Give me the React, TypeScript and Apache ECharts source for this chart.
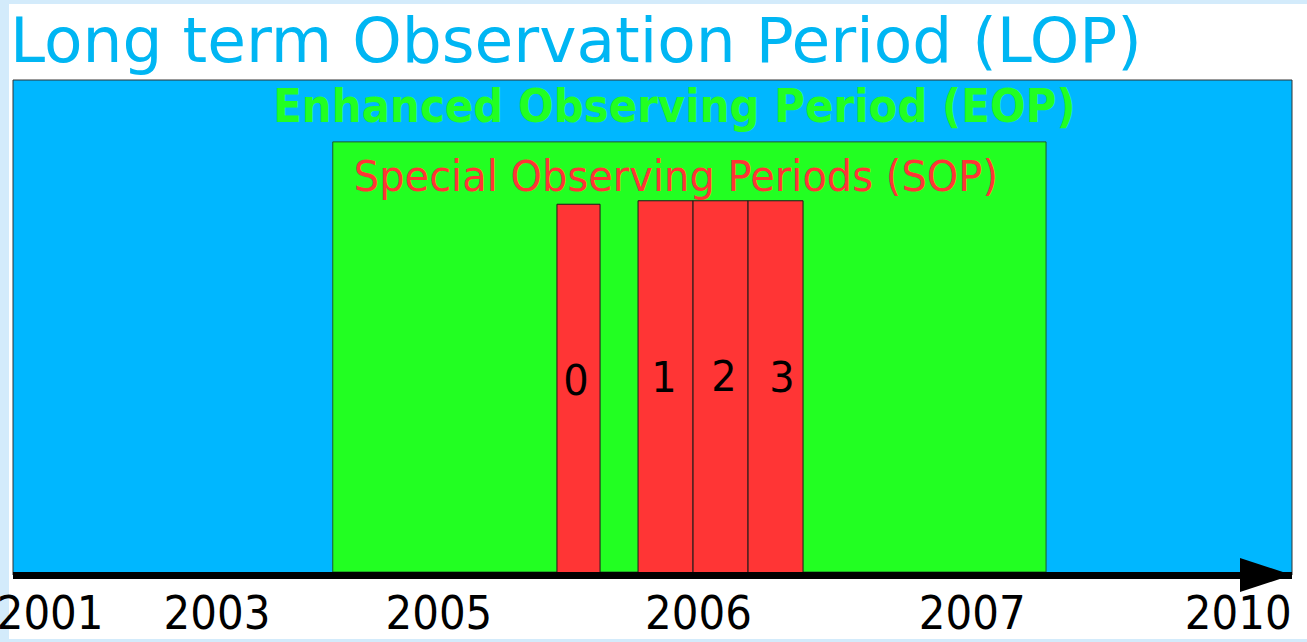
import React, { useEffect, useRef } from 'react';
import * as echarts from 'echarts';

const titleText = 'Long term Observation Period (LOP)';
const eopText = 'Enhanced Observing Period (EOP)';
const sopText = 'Special Observing Periods (SOP)';

// schematic timeline units: x runs 0–100 along the arrow, y runs 0–100 up the box
const lopSpan = [0, 100, 0, 100];
const eopSpan = [25.0, 80.77, 0.6, 87.5];
const sopLabels = ['0', '1', '2', '3'];
const sopStart = [42.53, 48.87, 53.17, 57.47];
const sopEnd = [45.9, 53.17, 57.47, 61.77];
const sopTop = [74.9, 75.6, 75.6, 75.6];
const sopLabelX = [44.02, 50.9, 55.59, 60.13];
const sopLabelY = [39.4, 40.0, 40.2, 40.0];
const yearLabels = ['2001', '2003', '2005', '2006', '2007', '2010'];
const yearPos = [2.9, 15.95, 33.3, 53.6, 75.0, 95.8];

const FONT = '"DejaVu Sans", sans-serif';
const BLUE = '#00b7ff';
const GREEN = '#22ff22';
const RED = '#ff3535';
const TEXT_SY = 1.08;

export default function App() {
  const ref = useRef<HTMLDivElement>(null);

  useEffect(() => {
    document.body.style.margin = '0';
    const chart = echarts.init(ref.current!, null, { renderer: 'svg' });

    const periodData = [lopSpan, eopSpan];
    const sopData = sopLabels.map((l, i) => [sopStart[i], sopEnd[i], 0, sopTop[i], sopLabelX[i], sopLabelY[i]]);
    const yearData = yearLabels.map((l, i) => [yearPos[i], 0]);

    chart.setOption({
      animation: false,
      backgroundColor: '#d3ebfb',
      title: {
        text: titleText,
        left: 10,
        top: 9,
        padding: 0,
        textStyle: { fontSize: 63, color: '#00b6f3', fontWeight: 'normal', fontFamily: FONT },
      },
      graphic: [
        {
          type: 'rect',
          z: -10,
          silent: true,
          shape: { x: 9, y: 4, width: 1298, height: 635 },
          style: { fill: '#ffffff' },
        },
      ],
      grid: { left: 13, top: 80, width: 1279, height: 495, containLabel: false },
      xAxis: {
        type: 'value',
        min: 0,
        max: 100,
        z: 10,
        offset: 3,
        axisLine: {
          show: true,
          lineStyle: { color: '#000000', width: 7, cap: 'butt' },
          symbol: ['none', 'triangle'],
          symbolSize: [34, 52],
          symbolOffset: [0, -26],
        },
        axisTick: { show: false },
        axisLabel: { show: false },
        splitLine: { show: false },
      },
      yAxis: {
        type: 'value',
        min: 0,
        max: 100,
        show: false,
        splitLine: { show: false },
      },
      series: [
        {
          type: 'custom',
          name: 'periods',
          z: 1,
          encode: { x: [0, 1], y: [2, 3] },
          data: periodData,
          renderItem: (params: any, api: any) => {
            const tl = api.coord([api.value(0), api.value(3)]);
            const br = api.coord([api.value(1), api.value(2)]);
            const i = params.dataIndex;
            const children: any[] = [
              {
                type: 'rect',
                shape: { x: tl[0], y: tl[1], width: br[0] - tl[0], height: br[1] - tl[1] },
                style: { fill: i === 0 ? BLUE : GREEN, stroke: i === 0 ? '#333333' : '#1f5a2a', lineWidth: 1 },
              },
            ];
            if (i === 1) {
              children.push({
                type: 'text',
                x: (tl[0] + br[0]) / 2 - 15,
                y: tl[1] - 36,
                scaleY: TEXT_SY,
                style: {
                  text: eopText,
                  fill: GREEN,
                  fontSize: 42,
                  fontWeight: 'bold',
                  fontFamily: FONT,
                  align: 'center',
                  verticalAlign: 'middle',
                },
              });
              children.push({
                type: 'text',
                x: tl[0] + 21,
                y: tl[1] + 34,
                scaleY: TEXT_SY,
                style: {
                  text: sopText,
                  fill: RED,
                  fontSize: 40,
                  fontFamily: FONT,
                  align: 'left',
                  verticalAlign: 'middle',
                },
              });
            }
            return { type: 'group', children };
          },
        },
        {
          type: 'custom',
          name: 'SOP',
          z: 2,
          encode: { x: [0, 1], y: [2, 3] },
          data: sopData,
          renderItem: (params: any, api: any) => {
            const tl = api.coord([api.value(0), api.value(3)]);
            const br = api.coord([api.value(1), api.value(2)]);
            const lp = api.coord([api.value(4), api.value(5)]);
            return {
              type: 'group',
              children: [
                {
                  type: 'rect',
                  shape: { x: tl[0], y: tl[1], width: br[0] - tl[0], height: br[1] - tl[1] },
                  style: { fill: RED, stroke: '#1a1a1a', lineWidth: 1 },
                },
                {
                  type: 'text',
                  x: lp[0],
                  y: lp[1],
                  scaleY: TEXT_SY,
                  style: {
                    text: sopLabels[params.dataIndex],
                    fill: '#000000',
                    fontSize: 40,
                    fontFamily: FONT,
                    align: 'center',
                    verticalAlign: 'middle',
                  },
                },
              ],
            };
          },
        },
        {
          type: 'custom',
          name: 'years',
          z: 3,
          encode: { x: 0, y: 1 },
          data: yearData,
          renderItem: (params: any, api: any) => {
            const p = api.coord([api.value(0), api.value(1)]);
            return {
              type: 'text',
              x: p[0],
              y: p[1] + 38,
              scaleY: TEXT_SY,
              style: {
                text: yearLabels[params.dataIndex],
                fill: '#000000',
                fontSize: 42,
                fontFamily: FONT,
                align: 'center',
                verticalAlign: 'middle',
              },
            };
          },
        },
      ],
    });

    return () => chart.dispose();
  }, []);

  return <div ref={ref} style={{ width: 1307, height: 642 }} />;
}
